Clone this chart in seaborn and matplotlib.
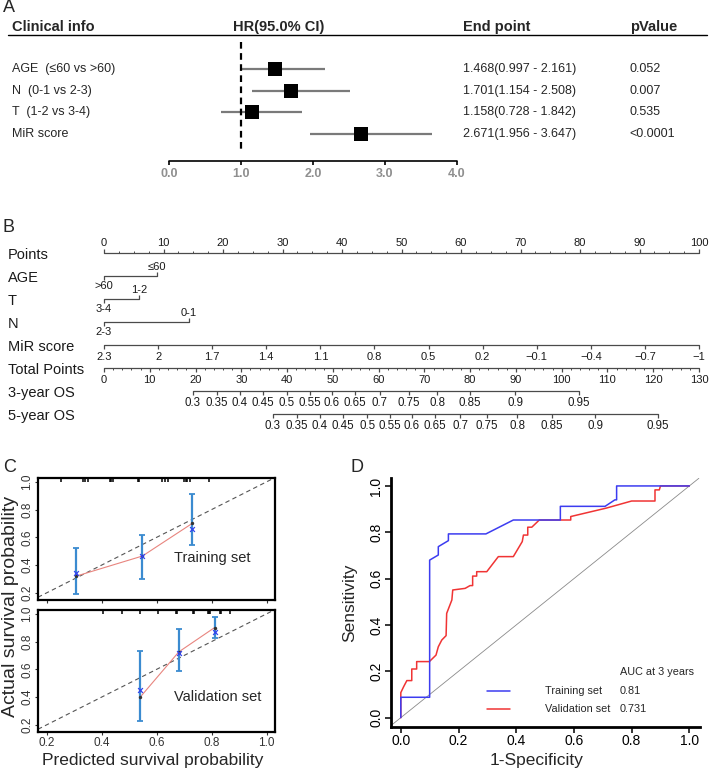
# Figure composite : forest plot, nomogramme, calibration et courbes ROC
import numpy as np
import matplotlib.pyplot as plt
import seaborn as sns

sns.set_style("white")
plt.rcParams["font.family"] = ["Liberation Sans", "DejaVu Sans"]

# ---- Panneau A : forest plot
clinical_vars = ["AGE  (≤60 vs >60)", "N  (0-1 vs 2-3)", "T  (1-2 vs 3-4)", "MiR score"]
hr_values = [1.468, 1.701, 1.158, 2.671]
hr_low = [0.997, 1.154, 0.728, 1.956]
hr_high = [2.161, 2.508, 1.842, 3.647]
p_values = ["0.052", "0.007", "0.535", "<0.0001"]
hr_ticks = [0.0, 1.0, 2.0, 3.0, 4.0]

# ---- Panneau B : nomogramme
row_names = ["Points", "AGE", "T", "N", "MiR score", "Total Points", "3-year OS", "5-year OS"]
points_ticks = list(range(0, 101, 10))
age_levels = ["≤60", ">60"]
age_points = [8.9, 0]
t_levels = ["1-2", "3-4"]
t_points = [5.9, 0]
n_levels = ["0-1", "2-3"]
n_points = [14.3, 0]
mir_ticks = [2.3, 2, 1.7, 1.4, 1.1, 0.8, 0.5, 0.2, -0.1, -0.4, -0.7, -1]
total_ticks = list(range(0, 131, 10))
os_labels = [0.3, 0.35, 0.4, 0.45, 0.5, 0.55, 0.6, 0.65, 0.7, 0.75, 0.8, 0.85, 0.9, 0.95]
os3_total = [19.4, 24.6, 29.7, 34.7, 39.9, 45.0, 49.8, 54.8, 60.3, 66.6, 72.8, 79.9, 89.8, 103.8]
os5_total = [36.9, 42.1, 47.2, 52.2, 57.5, 62.5, 67.3, 72.3, 77.8, 83.7, 90.3, 97.9, 107.3, 121.0]

# ---- Panneau C : calibration
train_pred = [0.307, 0.548, 0.729]
train_obs = [0.32, 0.465, 0.70]
train_corr = [0.34, 0.465, 0.66]
train_lo = [0.19, 0.30, 0.545]
train_hi = [0.525, 0.615, 0.915]
train_rug = [0.25, 0.33, 0.34, 0.35, 0.43, 0.435, 0.44, 0.53, 0.535, 0.62, 0.63, 0.64,
             0.70, 0.705, 0.71, 0.72, 0.79]
valid_pred = [0.54, 0.68, 0.81]
valid_obs = [0.40, 0.725, 0.90]
valid_corr = [0.45, 0.72, 0.87]
valid_lo = [0.225, 0.59, 0.825]
valid_hi = [0.73, 0.89, 0.975]
valid_rug = [0.405, 0.475, 0.54, 0.605, 0.67, 0.675, 0.73, 0.735, 0.785, 0.79, 0.795,
             0.83, 0.835, 0.865]

# ---- Panneau D : ROC
fpr_train = [0, 0, 0.1, 0.1, 0.13, 0.13, 0.165, 0.165, 0.295, 0.39, 0.553, 0.553,
             0.708, 0.742, 0.748, 0.748, 1.0]
tpr_train = [0, 0.088, 0.088, 0.68, 0.702, 0.738, 0.764, 0.793, 0.793, 0.853, 0.853,
             0.912, 0.912, 0.94, 0.94, 1.0, 1.0]
fpr_valid = [0, 0, 0.01, 0.021, 0.038, 0.038, 0.055, 0.055, 0.099, 0.122,
             0.13, 0.142, 0.157, 0.159, 0.177, 0.18, 0.223, 0.24, 0.249, 0.249,
             0.263, 0.263, 0.298, 0.338, 0.39, 0.421, 0.425, 0.44, 0.44, 0.454,
             0.48, 0.589, 0.589, 0.711, 0.8, 0.881, 0.881, 0.896, 0.9, 1.0]
tpr_valid = [0, 0.108, 0.134, 0.16, 0.16, 0.21, 0.21, 0.242, 0.242, 0.27,
             0.306, 0.335, 0.354, 0.45, 0.508, 0.551, 0.558, 0.57, 0.57, 0.611,
             0.611, 0.63, 0.63, 0.695, 0.695, 0.76, 0.788, 0.788, 0.822, 0.822,
             0.853, 0.853, 0.868, 0.904, 0.935, 0.935, 0.983, 0.983, 1.0, 1.0]
auc_names = ["Training set", "Validation set"]
auc_values = ["0.81", "0.731"]

W, H = 709, 773
fig = plt.figure(figsize=(W / 100, H / 100), dpi=100)

# ================= A =================
axA = fig.add_axes([0, 1 - 180 / H, 1, 180 / H])
rows = np.arange(len(clinical_vars))
axA.hlines(rows, hr_low, hr_high, color="#7a7a7a", lw=1.6)
sns.scatterplot(x=hr_values, y=rows, marker="s", s=100, color="black", linewidth=0, ax=axA, zorder=3)
axA.vlines(1.0, -1.24, 3.82, colors="black", linestyles=(0, (3, 2)), lw=1.6)
axA.plot([hr_ticks[0], hr_ticks[-1]], [4.24, 4.24], color="black", lw=1.2)
axA.vlines(hr_ticks, 4.24, 4.42, colors="black", lw=1.2)
for t in hr_ticks:
    axA.text(t, 4.84, f"{t:.1f}", ha="center", va="center", color="#8f8f8f",
             fontsize=9, fontweight="bold")
# en-têtes
axA.text(-2.18, -1.93, "Clinical info", fontsize=10.5, fontweight="bold", va="center")
axA.text(1.53, -1.93, "HR(95.0% CI)", fontsize=10.5, fontweight="bold", va="center", ha="center")
axA.text(4.08, -1.93, "End point", fontsize=10.5, fontweight="bold", va="center")
axA.text(6.40, -1.93, "pValue", fontsize=10.5, fontweight="bold", va="center")
axA.plot([-2.24, 7.47], [-1.57, -1.57], color="black", lw=1)
for i, name in enumerate(clinical_vars):
    axA.text(-2.18, i, name, fontsize=9, va="center")
    axA.text(4.08, i, f"{hr_values[i]:.3f}({hr_low[i]:.3f} - {hr_high[i]:.3f})", fontsize=9, va="center")
    axA.text(6.40, i, p_values[i], fontsize=9, va="center")
axA.set_xlim(-169 / 72, (W - 169) / 72)
axA.set_ylim(5.115, -3.18)
axA.axis("off")

# ================= B =================
axB = fig.add_axes([0, 1 - 435 / H, 1, 255 / H])
LC = "#4a4a4a"
TC = "#1a1a1a"


def scale(ax, y, xs, labels, above=False, minor=None, fs=8):
    d = -1 if above else 1
    off = 0.43 if above else 0.53
    ax.plot([min(xs), max(xs)], [y, y], color=LC, lw=0.9)
    ax.vlines(xs, y, y + d * 0.17, colors=LC, lw=0.9)
    if minor is not None:
        ax.vlines(minor, y, y + d * 0.09, colors=LC, lw=0.7)
    for x, lab in zip(xs, labels):
        ax.text(x, y + d * off, lab, ha="center", va="center", fontsize=fs, color=TC)


def cat_scale(ax, y, xs, labels):
    ax.plot([min(xs), max(xs)], [y, y], color=LC, lw=0.9)
    ax.vlines(xs[0], y, y - 0.17, colors=LC, lw=0.9)
    ax.vlines(xs[1], y, y + 0.17, colors=LC, lw=0.9)
    ax.text(xs[0], y - 0.39, labels[0], ha="center", va="center", fontsize=8, color=TC)
    ax.text(xs[1], y + 0.43, labels[1], ha="center", va="center", fontsize=8, color=TC)


for i, name in enumerate(row_names):
    axB.text(-16.13, i + 0.1, name, fontsize=10.5, va="center", color=TC)

scale(axB, 0, points_ticks, [str(p) for p in points_ticks], above=True,
      minor=np.arange(0, 100.1, 2.5))
cat_scale(axB, 1, age_points, age_levels)
cat_scale(axB, 2, t_points, t_levels)
cat_scale(axB, 3, n_points, n_levels)
mir_x = [(mir_ticks[0] - v) / (mir_ticks[0] - mir_ticks[-1]) * 100 for v in mir_ticks]
scale(axB, 4, mir_x, [f"{v:g}".replace("-", "\u2212") for v in mir_ticks])
tot_scale = 100 / total_ticks[-1]
scale(axB, 5, [t * tot_scale for t in total_ticks], [str(t) for t in total_ticks],
      minor=np.arange(0, 130.1, 2) * tot_scale)
scale(axB, 6, [t * tot_scale for t in os3_total], [f"{v:g}" for v in os_labels], fs=8.3)
scale(axB, 7, [t * tot_scale for t in os5_total], [f"{v:g}" for v in os_labels], fs=8.3)
axB.set_xlim(-104 / 5.95, (W - 104) / 5.95)
axB.set_ylim((435 - 253) / 23, (180 - 253) / 23)
axB.axis("off")

# ================= C =================
ax_w = 237 / W
ax_h = 122 / H
axC1 = fig.add_axes([38 / W, 1 - 600 / H, ax_w, ax_h])
axC2 = fig.add_axes([38 / W, 1 - 732 / H, ax_w, ax_h])


def calib(ax, pred, obs, corr, lo, hi, rug, label, lx, ly):
    ax.axline((0, 0), (1, 1), color="#555555", lw=0.8, ls=(0, (4, 3)))
    sns.lineplot(x=pred, y=obs, color="#e8857f", lw=0.8, sort=False, estimator=None, ax=ax)
    err = [np.array(obs) - np.array(lo), np.array(hi) - np.array(obs)]
    ax.errorbar(pred, obs, yerr=err, fmt="none", ecolor="#3b8bd0", elinewidth=1.6,
                capsize=2.5, capthick=1.3)
    sns.scatterplot(x=pred, y=obs, color="#333333", s=6, linewidth=0, ax=ax, zorder=4)
    sns.scatterplot(x=pred, y=corr, color="#3344ee", marker="x", s=12, linewidth=0.9, ax=ax, zorder=4)
    ax.vlines(rug, 0.998, 1.03, colors="black", lw=1.1)
    ax.text(lx, ly, label, fontsize=10.5, ha="center", va="center")
    ax.set_xlim(0.168, 1.03)
    ax.set_ylim(0.148, 1.027)
    ax.set_xticks([0.2, 0.4, 0.6, 0.8, 1.0])
    ax.set_yticks([0.2, 0.4, 0.6, 0.8, 1.0])
    ax.set_yticklabels(["0.2", "0.4", "0.6", "0.8", "1.0"], rotation=90, va="center")
    ax.tick_params(axis="both", bottom=True, left=True, direction="out", length=2.5,
                   width=0.8, pad=1, labelsize=8.5, colors="#333333")
    for s in ax.spines.values():
        s.set_linewidth(1.6)
        s.set_color("black")


calib(axC1, train_pred, train_obs, train_corr, train_lo, train_hi, train_rug,
      "Training set", 0.80, 0.45)
calib(axC2, valid_pred, valid_obs, valid_corr, valid_lo, valid_hi, valid_rug,
      "Validation set", 0.82, 0.40)
axC1.tick_params(labelbottom=False)
axC2.set_xticklabels(["0.2", "0.4", "0.6", "0.8", "1.0"])
fig.text(11 / W, 1 - 606 / H, "Actual survival probability", rotation=90,
         fontsize=14, ha="center", va="center")
fig.text(153 / W, 1 - 760 / H, "Predicted survival probability",
         fontsize=12.5, ha="center", va="center")

# ================= D =================
axD = fig.add_axes([390.7 / W, 1 - 726.7 / H, 309.3 / W, 248.4 / H])
axD.axline((0, 0), (1, 1), color="#8a8a8a", lw=0.6)
sns.lineplot(x=fpr_valid, y=tpr_valid, sort=False, estimator=None, color="#f03434", lw=1.1, ax=axD)
sns.lineplot(x=fpr_train, y=tpr_train, sort=False, estimator=None, color="#3c3cf0", lw=1.1, ax=axD)
axD.set_xlim(-0.035, 1.037)
axD.set_ylim(-0.039, 1.033)
ticks = [0.0, 0.2, 0.4, 0.6, 0.8, 1.0]
axD.set_xticks(ticks)
axD.set_xticklabels([f"{t:.1f}" for t in ticks])
axD.set_yticks(ticks)
axD.set_yticklabels([f"{t:.1f}" for t in ticks], rotation=90, va="center")
axD.tick_params(axis="both", bottom=True, left=True, direction="out", length=4,
                width=1.1, pad=1.5, labelsize=10, colors="black")
sns.despine(ax=axD)
for s in ["left", "bottom"]:
    axD.spines[s].set_linewidth(2.0)
    axD.spines[s].set_color("black")
axD.set_xlabel("1-Specificity", fontsize=12.5)
axD.set_ylabel("Sensitivity", fontsize=12.5)
axD.xaxis.set_label_coords(0.472, -0.138)
axD.xaxis.label.set_va("center")
axD.yaxis.set_label_coords(-0.132, 0.498)
axD.yaxis.label.set_va("center")
# légende faite à la main (deux colonnes)
axD.text(0.741, 0.221, "AUC at 3 years", transform=axD.transAxes, fontsize=7.8, va="center")
for k, (nm, val, col) in enumerate(zip(auc_names, auc_values, ["#3c3cf0", "#f03434"])):
    yy = 0.144 - k * 0.074
    axD.plot([0.31, 0.386], [yy, yy], transform=axD.transAxes, color=col, lw=1.1)
    axD.text(0.499, yy, nm, transform=axD.transAxes, fontsize=7.8, va="center")
    axD.text(0.741, yy, val, transform=axD.transAxes, fontsize=7.8, va="center")

# lettres des panneaux
fig.text(3 / W, 1 - 7 / H, "A", fontsize=13, va="center")
fig.text(3 / W, 1 - 227 / H, "B", fontsize=13, va="center")
fig.text(3 / W, 1 - 467 / H, "C", fontsize=13, va="center")
fig.text(350 / W, 1 - 467 / H, "D", fontsize=13, va="center")

fig.savefig("out.png", dpi=100)
